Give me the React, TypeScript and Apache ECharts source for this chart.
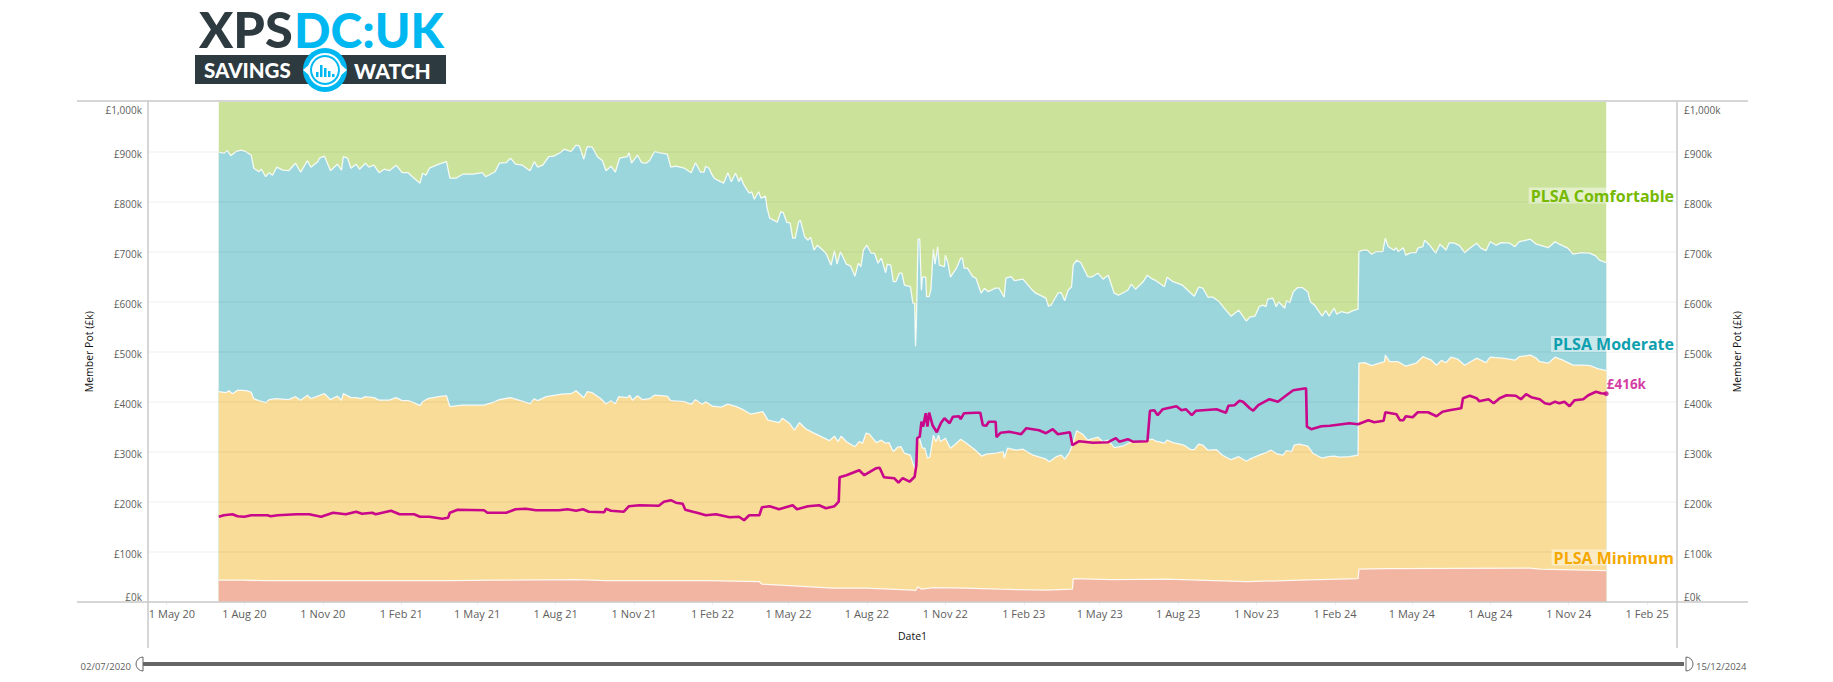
import React, { useEffect, useRef } from "react";
import * as echarts from "echarts";

const START_DAY = Date.UTC(2020, 6, 2);
const FONT = '"Open Sans", "Noto Sans", sans-serif';

const tickDates = ["2020-05-01","2020-08-01","2020-11-01","2021-02-01","2021-05-01","2021-08-01","2021-11-01","2022-02-01","2022-05-01","2022-08-01","2022-11-01","2023-02-01","2023-05-01","2023-08-01","2023-11-01","2024-02-01","2024-05-01","2024-08-01","2024-11-01","2025-02-01"];
const tickLabels = ["1 May 20","1 Aug 20","1 Nov 20","1 Feb 21","1 May 21","1 Aug 21","1 Nov 21","1 Feb 22","1 May 22","1 Aug 22","1 Nov 22","1 Feb 23","1 May 23","1 Aug 23","1 Nov 23","1 Feb 24","1 May 24","1 Aug 24","1 Nov 24","1 Feb 25"];
const yTicks = [100,200,300,400,500,600,700,800,900];

// [days since 2 Jul 2020, £k]
const comfortableTop = [[0,1000],[1627,1000]];

const moderateTop = [[0,899],[6,897],[10,902],[14,892],[20,900],[26,903],[32,900],[38,893],[41,867],[47,860],[50,865],[55,850],[59,858],[63,853],[68,869],[75,863],[82,862],[90,877],[96,859],[104,882],[108,869],[116,880],[118,887],[124,891],[131,862],[139,875],[144,863],[146,890],[151,887],[155,867],[161,875],[165,865],[172,877],[176,869],[182,873],[188,858],[194,865],[200,862],[208,873],[215,858],[222,858],[229,847],[236,837],[239,857],[243,853],[247,867],[258,875],[267,880],[271,847],[278,847],[286,855],[298,855],[309,858],[313,850],[324,860],[329,877],[337,878],[342,887],[348,875],[356,873],[365,862],[370,880],[374,869],[380,873],[387,890],[393,891],[402,900],[405,905],[413,900],[419,913],[423,911],[428,885],[432,910],[438,909],[444,890],[450,882],[454,862],[460,871],[465,859],[470,887],[479,890],[481,898],[484,877],[491,893],[496,878],[501,877],[505,882],[511,900],[516,898],[526,895],[530,869],[536,871],[546,867],[554,858],[559,878],[565,859],[569,859],[571,871],[575,867],[578,855],[581,847],[585,843],[592,837],[597,858],[601,840],[606,857],[610,840],[612,849],[616,833],[622,817],[625,820],[628,805],[633,820],[636,807],[641,811],[643,787],[646,767],[655,759],[659,780],[662,778],[666,759],[670,757],[673,727],[676,727],[680,760],[682,763],[687,730],[691,723],[694,729],[698,703],[702,713],[712,697],[718,673],[722,702],[725,675],[729,700],[736,675],[741,671],[746,651],[750,677],[753,670],[756,703],[760,713],[765,697],[769,697],[773,677],[777,687],[782,658],[784,675],[788,673],[791,640],[794,640],[798,657],[801,657],[804,633],[811,630],[814,597],[816,597],[817,511],[818,553],[820,725],[822,725],[824,623],[825,649],[829,649],[830,610],[833,610],[835,623],[838,705],[840,675],[843,710],[845,673],[851,670],[852,693],[855,678],[858,649],[865,667],[870,687],[872,687],[874,667],[878,667],[884,650],[888,647],[894,617],[898,627],[902,620],[911,627],[915,627],[921,609],[923,647],[929,650],[933,642],[943,645],[953,625],[958,617],[970,607],[973,591],[976,593],[984,617],[988,618],[992,602],[996,623],[1000,630],[1002,673],[1006,683],[1011,678],[1019,650],[1023,649],[1031,657],[1037,645],[1043,653],[1050,617],[1055,613],[1066,623],[1070,635],[1075,625],[1084,640],[1089,653],[1095,645],[1099,642],[1109,630],[1112,649],[1119,640],[1130,633],[1140,617],[1144,611],[1149,629],[1154,627],[1160,609],[1166,609],[1173,600],[1179,587],[1187,571],[1196,583],[1205,561],[1209,569],[1215,571],[1220,590],[1224,593],[1228,590],[1230,605],[1236,607],[1240,590],[1243,600],[1250,587],[1252,602],[1256,598],[1260,620],[1265,628],[1271,628],[1277,620],[1280,600],[1285,593],[1289,583],[1294,571],[1298,582],[1302,571],[1308,587],[1311,575],[1316,580],[1324,577],[1330,582],[1336,585],[1337,700],[1342,703],[1347,703],[1352,695],[1357,700],[1365,700],[1368,727],[1371,711],[1378,703],[1381,708],[1383,700],[1389,708],[1392,693],[1398,698],[1404,698],[1406,707],[1412,710],[1414,723],[1420,713],[1427,697],[1432,715],[1437,707],[1439,703],[1443,718],[1449,717],[1455,712],[1461,698],[1467,707],[1475,717],[1480,707],[1486,702],[1491,720],[1498,713],[1504,718],[1514,717],[1520,710],[1525,720],[1531,722],[1538,725],[1545,715],[1549,713],[1559,708],[1567,720],[1572,715],[1582,707],[1588,695],[1598,698],[1608,697],[1615,691],[1619,683],[1627,678]];

const minimumTop = [[0,420],[8,418],[12,422],[16,416],[22,423],[32,422],[38,419],[41,406],[47,402],[55,398],[59,404],[67,406],[82,404],[90,410],[96,403],[104,413],[108,406],[124,416],[131,404],[139,411],[144,403],[146,416],[155,408],[161,408],[167,406],[172,410],[182,408],[188,403],[200,403],[208,408],[215,402],[222,402],[229,398],[236,392],[239,400],[245,406],[258,410],[267,412],[271,390],[286,393],[298,393],[311,393],[324,400],[329,404],[342,408],[350,404],[365,396],[370,406],[374,402],[384,410],[402,415],[413,416],[419,422],[428,408],[432,420],[438,418],[448,406],[454,396],[460,402],[465,396],[469,410],[479,408],[482,413],[485,403],[491,412],[497,404],[505,406],[511,413],[526,411],[530,402],[546,400],[554,395],[559,404],[567,395],[571,400],[579,391],[589,389],[597,395],[607,390],[616,383],[624,375],[638,380],[644,363],[657,358],[661,367],[669,357],[675,343],[681,358],[689,345],[698,337],[716,322],[722,331],[726,320],[730,331],[736,320],[746,310],[751,320],[755,317],[759,337],[763,335],[771,318],[777,323],[782,317],[786,318],[791,300],[796,309],[800,310],[804,297],[811,293],[814,277],[817,262],[820,330],[822,325],[825,307],[828,307],[831,287],[834,290],[838,333],[841,320],[844,333],[846,320],[852,327],[858,307],[865,317],[870,325],[876,318],[886,305],[895,291],[900,295],[911,297],[920,300],[921,287],[925,307],[935,303],[943,305],[955,293],[970,285],[974,280],[982,290],[988,293],[992,285],[997,297],[1001,313],[1006,342],[1013,335],[1019,323],[1031,329],[1037,320],[1043,323],[1050,308],[1060,311],[1070,320],[1076,318],[1089,323],[1095,325],[1099,321],[1109,317],[1112,323],[1119,318],[1132,313],[1140,304],[1144,304],[1149,315],[1154,313],[1160,303],[1170,304],[1177,293],[1187,284],[1196,290],[1205,281],[1209,285],[1220,293],[1228,298],[1234,303],[1242,295],[1248,293],[1252,302],[1258,300],[1261,313],[1267,315],[1277,311],[1283,297],[1294,287],[1301,290],[1308,291],[1314,289],[1326,290],[1336,293],[1337,477],[1344,478],[1352,472],[1361,477],[1367,480],[1368,493],[1373,480],[1383,480],[1392,471],[1404,477],[1412,490],[1422,483],[1428,473],[1434,483],[1439,478],[1445,489],[1453,485],[1461,473],[1475,487],[1486,478],[1491,489],[1506,487],[1520,483],[1525,490],[1538,493],[1545,487],[1549,480],[1559,477],[1567,489],[1576,483],[1588,473],[1600,473],[1608,472],[1617,466],[1627,462]];

const belowMinimumTop = [[0,43],[28,43],[55,42],[145,42],[270,42],[325,43],[419,44],[454,42],[573,42],[634,40],[637,35],[669,32],[720,27],[759,27],[814,23],[817,22],[820,30],[824,25],[838,28],[876,27],[915,25],[970,23],[1001,25],[1002,46],[1048,44],[1111,45],[1205,40],[1267,43],[1336,46],[1337,65],[1369,66],[1537,67],[1549,65],[1627,62]];

const memberPot = [[0,170],[6,173],[16,175],[22,171],[30,170],[38,173],[57,173],[61,171],[69,173],[91,175],[106,175],[120,170],[134,178],[149,175],[161,180],[168,176],[180,178],[184,175],[202,182],[212,175],[229,175],[236,170],[239,170],[247,170],[262,166],[269,168],[271,178],[280,184],[311,183],[315,178],[337,178],[348,185],[360,186],[372,183],[399,183],[409,185],[419,182],[427,185],[434,180],[452,179],[454,186],[460,182],[475,180],[481,191],[493,193],[516,192],[522,200],[530,203],[536,198],[544,196],[547,184],[556,180],[563,177],[571,173],[583,175],[599,169],[610,170],[616,163],[622,173],[634,173],[637,189],[646,191],[657,185],[673,193],[678,185],[691,191],[704,193],[712,187],[722,191],[727,200],[728,249],[736,253],[751,263],[757,253],[771,267],[775,268],[780,249],[792,247],[797,238],[802,247],[810,240],[816,250],[818,273],[819,327],[822,330],[824,360],[826,350],[829,377],[831,350],[833,378],[837,353],[842,339],[847,358],[851,367],[857,357],[861,370],[868,371],[870,365],[874,377],[888,378],[893,378],[896,353],[900,352],[903,360],[911,360],[912,329],[917,338],[927,340],[941,335],[947,347],[962,343],[970,337],[978,345],[984,335],[998,339],[1001,313],[1009,321],[1025,318],[1043,319],[1052,327],[1056,320],[1066,325],[1072,320],[1089,321],[1092,382],[1097,383],[1101,373],[1107,385],[1123,391],[1129,383],[1134,385],[1141,373],[1146,382],[1170,385],[1181,378],[1184,392],[1191,393],[1197,402],[1201,400],[1209,387],[1213,382],[1219,393],[1232,405],[1242,400],[1252,413],[1260,423],[1275,427],[1276,350],[1281,345],[1293,351],[1303,352],[1326,357],[1336,355],[1348,363],[1355,359],[1366,362],[1368,379],[1381,375],[1385,363],[1389,363],[1392,371],[1400,369],[1406,379],[1418,379],[1428,371],[1435,380],[1443,383],[1457,387],[1459,407],[1467,412],[1475,407],[1478,401],[1489,405],[1495,397],[1502,407],[1510,413],[1521,412],[1527,405],[1533,415],[1539,409],[1549,405],[1555,397],[1561,395],[1567,400],[1572,397],[1578,400],[1584,391],[1590,403],[1600,405],[1606,413],[1615,420],[1621,417],[1627,416]];

const toSeries = (rows: number[][]) => rows.map(([d, v]) => [START_DAY + d * 86400000, v]);
const tickTimes = tickDates.map((d) => Date.parse(d + "T00:00:00Z"));

const area = (name: string, rows: number[][], color: string, line: number, z: number) => ({
  name, type: "line", data: toSeries(rows), showSymbol: false, smooth: false, silent: true, z,
  lineStyle: { color: "rgba(255,255,255,0.85)", width: line },
  areaStyle: { color, opacity: 1 },
});

export default function App() {
  const ref = useRef<HTMLDivElement>(null);
  useEffect(() => {
    const chart = echarts.init(ref.current!, null, { renderer: "svg" });
    const AXIS = "#c8c8c8";
    const LABEL = "#605e5c";
    const last = memberPot[memberPot.length - 1];
    const hLine = (y: number) => ({ type: "line", shape: { x1: 77, y1: y, x2: 1748, y2: y }, style: { stroke: AXIS, lineWidth: 1.5 }, z: 50 });
    const vLine = (x: number) => ({ type: "line", shape: { x1: x, y1: 101, x2: x, y2: 648 }, style: { stroke: AXIS, lineWidth: 1.5 }, z: 50 });
    const tag = (text: string, y: number, fill: string) => ({
      type: "text", z: 60,
      style: { text, x: 1674, y, align: "right", verticalAlign: "middle", fill, font: `700 16px ${FONT}`, backgroundColor: "rgba(255,255,255,0.45)", padding: [0, 0, 0, 2] },
    });
    const bars = [[316,5],[320,12],[324,9],[328,6],[332,3]];
    const yStyle = { color: LABEL, fontFamily: FONT, fontSize: 10 };
    chart.setOption({
      animation: false,
      backgroundColor: "#fff",
      grid: { left: 148, right: 156, top: 101.7, height: 500, containLabel: false },
      xAxis: {
        type: "value", min: Date.UTC(2020, 3, 10), max: Date.UTC(2025, 2, 8),
        name: "Date1", nameLocation: "middle", nameGap: 29,
        nameTextStyle: { color: "#111", fontFamily: FONT, fontSize: 10.5 },
        axisLine: { show: false },
        axisTick: { show: true, length: 3, lineStyle: { color: "#e8e8e8" }, customValues: tickTimes },
        splitLine: { show: false },
        axisLabel: {
          color: LABEL, fontFamily: FONT, fontSize: 11, margin: 6, hideOverlap: false,
          customValues: tickTimes,
          formatter: (v: number) => {
            const i = tickTimes.indexOf(v);
            return i === 0 ? `{first|${tickLabels[i]}}` : tickLabels[i] ?? "";
          },
          rich: { first: { color: LABEL, fontFamily: FONT, fontSize: 11, padding: [0, 0, 0, 12] } },
        },
      },
      yAxis: [0, 1].map((i) => ({
        type: "value", min: 0, max: 1000, interval: 100, position: i ? "right" : "left",
        name: "Member Pot (£k)", nameLocation: "middle", nameGap: i ? 50 : 49, nameRotate: 90,
        nameTextStyle: { color: "#111", fontFamily: FONT, fontSize: 10.5 },
        axisLine: { show: false }, axisTick: { show: false }, splitLine: { show: false },
        axisLabel: {
          ...yStyle, margin: i ? 7 : 6,
          verticalAlignMinLabel: "bottom", verticalAlignMaxLabel: "top",
          formatter: (v: number) => {
            const text = `£${v.toLocaleString("en-GB")}k`;
            return v === 0 || v === 1000 ? `{end|${text}}` : `{mid|${text}}`;
          },
          rich: {
            end: { ...yStyle, padding: [3, 0, 0, 0] },
            mid: { ...yStyle, padding: [5, 0, 0, 0] },
          },
        },
      })),
      series: [
        area("PLSA Comfortable", comfortableTop, "#cbe29b", 0, 2),
        area("PLSA Moderate", moderateTop, "#9bd6dd", 1.3, 3),
        area("PLSA Minimum", minimumTop, "#f8dc97", 1.3, 4),
        {
          ...area("Below Minimum", belowMinimumTop, "#f2b5a2", 1.3, 5),
          markLine: {
            silent: true, symbol: "none", label: { show: false }, z: 6,
            lineStyle: { color: "rgba(60,60,60,0.055)", width: 1.5, type: "solid" },
            data: yTicks.map((yAxis) => ({ yAxis })),
          },
        },
        {
          name: "Member Pot", type: "line", data: toSeries(memberPot), showSymbol: false, silent: true, z: 8,
          lineStyle: { color: "#c8078a", width: 2.6 },
        },
        {
          name: "Latest", type: "scatter", data: toSeries([last]), symbolSize: 5, silent: true, z: 9,
          itemStyle: { color: "#c8078a" },
          label: {
            show: true, position: "right", distance: -2, offset: [0, -10], color: "#c8078a", fontFamily: FONT, fontWeight: 700, fontSize: 13.5,
            formatter: () => `£${last[1]}k`,
          },
        },
      ],
      graphic: [
        hLine(101), hLine(602), vLine(148), vLine(1677),
        tag("PLSA Comfortable", 195.5, "#76b900"),
        tag("PLSA Moderate", 344, "#0f9fae"),
        tag("PLSA Minimum", 557.5, "#f5a800"),
        // date range slicer
        { type: "rect", shape: { x: 143, y: 662, width: 1541, height: 4 }, style: { fill: "#666" } },
        { type: "text", style: { text: "02/07/2020", x: 131, y: 666.5, align: "right", verticalAlign: "middle", fill: LABEL, font: `9.5px ${FONT}` } },
        { type: "text", style: { text: "15/12/2024", x: 1696, y: 666.5, align: "left", verticalAlign: "middle", fill: LABEL, font: `9.5px ${FONT}` } },
        { type: "sector", shape: { cx: 143, cy: 664, r: 7, startAngle: Math.PI / 2, endAngle: (3 * Math.PI) / 2 }, style: { fill: "#fff", stroke: "#666", lineWidth: 1 } },
        { type: "sector", shape: { cx: 1686, cy: 664, r: 7, startAngle: -Math.PI / 2, endAngle: Math.PI / 2 }, style: { fill: "#fff", stroke: "#666", lineWidth: 1 } },
        // logo
        { type: "text", x: 199, y: 29, scaleX: 1.03, style: { text: "XPS", x: 0, y: 0, align: "left", verticalAlign: "middle", fill: "#2d3a40", font: `900 49px Lato, ${FONT}` } },
        { type: "text", style: { text: "DC:UK", x: 294, y: 29, align: "left", verticalAlign: "middle", fill: "#00b8f1", font: `900 48px Lato, ${FONT}` } },
        { type: "rect", shape: { x: 195, y: 55, width: 251, height: 29 }, style: { fill: "#2d3a40" } },
        { type: "text", style: { text: "SAVINGS", x: 204, y: 70, align: "left", verticalAlign: "middle", fill: "#fff", font: `900 20.5px Lato, ${FONT}` } },
        { type: "text", style: { text: "WATCH", x: 354, y: 70, align: "left", verticalAlign: "middle", fill: "#fff", font: `900 21px Lato, ${FONT}` } },
        { type: "circle", shape: { cx: 325, cy: 70, r: 22 }, style: { fill: "#00b8f1" } },
        { type: "circle", shape: { cx: 325, cy: 70, r: 17 }, style: { fill: "#fff" } },
        { type: "ring", shape: { cx: 325, cy: 70, r: 15, r0: 13 }, style: { fill: "#00b8f1" } },
        { type: "polygon", shape: { points: [[303,70],[310,64],[310,76]] }, style: { fill: "#fff" } },
        { type: "polygon", shape: { points: [[347,70],[340,64],[340,76]] }, style: { fill: "#fff" } },
        ...bars.map(([x, h]) => ({ type: "rect", shape: { x, y: 77 - h, width: 2.5, height: h }, style: { fill: "#00b8f1" } })),
      ],
    });
    return () => chart.dispose();
  }, []);
  return <div ref={ref} style={{ position: "absolute", left: 0, top: 0, width: 1833, height: 682 }} />;
}
